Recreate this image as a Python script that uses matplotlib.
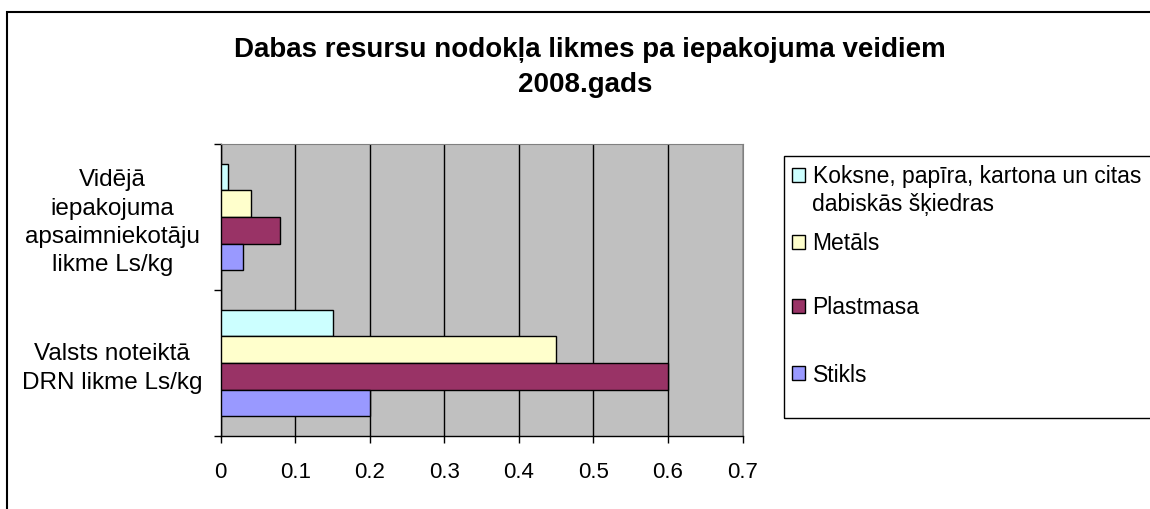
import matplotlib
matplotlib.use("Agg")
import matplotlib.pyplot as plt
from matplotlib.patches import Rectangle, Patch
import numpy as np

plt.rcParams['font.family'] = ['Liberation Sans', 'DejaVu Sans']

categories = ["Valsts noteiktā\nDRN likme Ls/kg",
              "Vidējā\niepakojuma\napsaimniekotāju\nlikme Ls/kg"]
series = ["Koksne, papīra, kartona un citas", "Metāls", "Plastmasa", "Stikls"]
series_extra_line = "dabiskās šķiedras"
koksne = [0.15, 0.01]
metals = [0.45, 0.04]
plastmasa = [0.60, 0.08]
stikls = [0.20, 0.03]
values = [koksne, metals, plastmasa, stikls]
colors = ["#CCFFFF", "#FFFFCC", "#993366", "#9999FF"]
xticks = [0, 0.1, 0.2, 0.3, 0.4, 0.5, 0.6, 0.7]

fig = plt.figure(figsize=(11.5, 5.09), dpi=100)
W, H = 1150, 509
ax = fig.add_axes([220.7 / W, 1 - 436 / H, (742.6 - 220.7) / W, (436 - 144) / H])
ax.set_facecolor("#C0C0C0")

bh = 0.182
y = np.arange(len(categories))
offsets = [1.5 * bh, 0.5 * bh, -0.5 * bh, -1.5 * bh]
for vals, col, off, name in zip(values, colors, offsets, series):
    ax.barh(y + off, vals, height=bh, color=col, edgecolor="black", linewidth=1.0, zorder=3, label=name)

ax.set_xlim(0, 0.7)
ax.set_ylim(-0.5, 1.5)
ax.set_xticks(xticks)
ax.set_xticklabels([f"{t:g}" for t in xticks], fontsize=16)
ax.xaxis.grid(True, color="black", linewidth=1.0, zorder=1)
ax.set_axisbelow(True)
ax.set_yticks([-0.5, 0.5, 1.5])
ax.set_yticklabels([])
ax.set_yticks(y, minor=True)
ax.set_yticklabels(categories, minor=True, fontsize=17.5, linespacing=1.38, ha="center")
ax.tick_params(axis="y", which="minor", length=0, pad=78)
ax.tick_params(axis="y", which="major", length=5, direction="out", width=1)
ax.tick_params(axis="x", length=5, direction="out", width=1, pad=14)
for s in ["top", "right"]:
    ax.spines[s].set_color("#808080")
for s in ["left", "bottom"]:
    ax.spines[s].set_color("black")
    ax.spines[s].set_linewidth(1.0)

fig.text(590 / W, 1 - 50 / H, "Dabas resursu nodokļa likmes pa iepakojuma veidiem",
         ha="center", va="center", fontsize=20, fontweight="bold")
fig.text(585 / W, 1 - 85 / H, "2008.gads",
         ha="center", va="center", fontsize=20, fontweight="bold")

# outer chart border
fig.patches.append(Rectangle((7 / W, -0.1), 1.2, 1 - 12 / H + 0.1, transform=fig.transFigure,
                             fill=False, edgecolor="black", linewidth=1.5, clip_on=False))
# legend frame
fig.patches.append(Rectangle((784 / W, 1 - 418 / H), 0.5, (418 - 156) / H, transform=fig.transFigure,
                             fill=False, edgecolor="black", linewidth=1.0, clip_on=False))

entry_y = [177, 244, 308, 375]
for col, name, ey in zip(colors, series, entry_y):
    h = Patch(facecolor=col, edgecolor="black", linewidth=1.0)
    fig.legend([h], [name], loc="center left", bbox_to_anchor=(792 / W, 1 - ey / H),
               frameon=False, fontsize=16.5, handlelength=0.55, handleheight=0.55,
               handletextpad=0.35, borderaxespad=0, borderpad=0)
fig.text(812 / W, 1 - 204 / H, series_extra_line, ha="left", va="center", fontsize=16.5)

fig.savefig("out.png", dpi=100)
